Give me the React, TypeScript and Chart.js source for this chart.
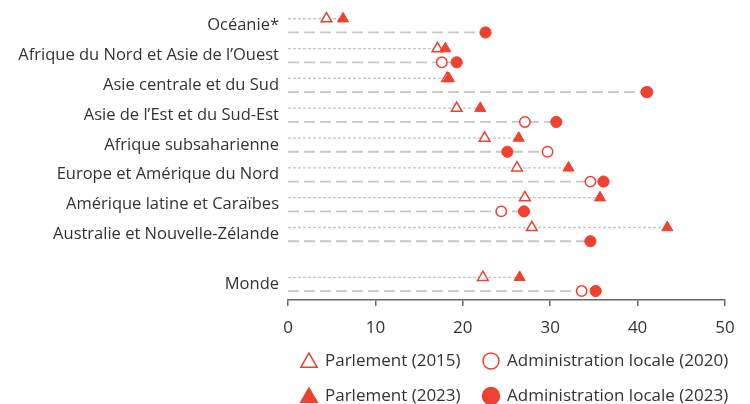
import React, { useEffect, useRef } from 'react';
import { Chart, registerables } from 'chart.js';

Chart.register(...registerables);

const categories = [
  'Océanie*',
  'Afrique du Nord et Asie de l’Ouest',
  'Asie centrale et du Sud',
  'Asie de l’Est et du Sud-Est',
  'Afrique subsaharienne',
  'Europe et Amérique du Nord',
  'Amérique latine et Caraïbes',
  'Australie et Nouvelle-Zélande',
  'Monde',
];
const parlement2015 = [4.4, 17.1, 18.2, 19.3, 22.5, 26.2, 27.1, 27.9, 22.3];
const parlement2023 = [6.3, 18.0, 18.4, 22.0, 26.4, 32.1, 35.7, 43.4, 26.5];
const locale2020: (number | null)[] = [null, 17.6, 41.0, 27.1, 29.7, 34.6, 24.4, null, 33.6];
const locale2023 = [22.6, 19.3, 41.1, 30.7, 25.1, 36.1, 27.0, 34.6, 35.2];
const xTicks = [0, 10, 20, 30, 40, 50];
const seriesLabels = [
  'Parlement (2015)',
  'Administration locale (2020)',
  'Parlement (2023)',
  'Administration locale (2023)',
];

const RED = '#EF4130';
const GRAY_LINE = '#c6c6c6';
const TEXT = '#333333';
const FONT = "'Open Sans', sans-serif";
const OFF = 0.23;

// row centre on the linear y scale; a gap separates "Monde"
const rowPos = categories.map((_, i) => (i < categories.length - 1 ? i : i + 0.67));

function maxOf(vals: (number | null)[]) {
  const v = vals.filter((x): x is number => x !== null && x !== undefined);
  return v.length ? Math.max(...v) : 0;
}

function pts(vals: (number | null)[], off: number) {
  const out: { x: number; y: number }[] = [];
  vals.forEach((v, i) => {
    if (v !== null && v !== undefined) out.push({ x: v, y: rowPos[i] + off });
  });
  return out;
}

function drawMarker(ctx: CanvasRenderingContext2D, kind: string, filled: boolean, x: number, y: number) {
  ctx.save();
  ctx.lineWidth = 1.5;
  ctx.strokeStyle = RED;
  ctx.fillStyle = filled ? RED : '#ffffff';
  ctx.beginPath();
  if (kind === 'triangle') {
    const r = 9.5;
    ctx.moveTo(x, y - r);
    ctx.lineTo(x + r * 0.866, y + r * 0.5);
    ctx.lineTo(x - r * 0.866, y + r * 0.5);
    ctx.closePath();
  } else {
    ctx.arc(x, y, filled ? 8.5 : 8, 0, Math.PI * 2);
  }
  ctx.fill();
  ctx.stroke();
  ctx.restore();
}

const legendPlugin = {
  id: 'customLegend',
  afterDraw(chart: any) {
    const ctx = chart.ctx as CanvasRenderingContext2D;
    const items = [
      { label: seriesLabels[0], kind: 'triangle', filled: false, col: 0, row: 0 },
      { label: seriesLabels[1], kind: 'circle', filled: false, col: 1, row: 0 },
      { label: seriesLabels[2], kind: 'triangle', filled: true, col: 0, row: 1 },
      { label: seriesLabels[3], kind: 'circle', filled: true, col: 1, row: 1 },
    ];
    const colMarkerX = [309, 491];
    const rowY = [361, 396];
    ctx.save();
    ctx.font = `17px ${FONT}`;
    ctx.fillStyle = TEXT;
    ctx.textBaseline = 'middle';
    ctx.textAlign = 'left';
    items.forEach((it) => {
      const mx = colMarkerX[it.col];
      const my = rowY[it.row];
      drawMarker(ctx, it.kind, it.filled, mx, my + (it.kind === 'triangle' ? 1.5 : 0));
      ctx.fillStyle = TEXT;
      ctx.fillText(it.label, mx + 16, my);
    });
    ctx.restore();
  },
};

export default function App() {
  const ref = useRef<HTMLCanvasElement>(null);

  useEffect(() => {
    if (!ref.current) return;

    const lineSets: any[] = [];
    categories.forEach((_, i) => {
      lineSets.push({
        type: 'line',
        label: 'lp' + i,
        data: [
          { x: 0, y: rowPos[i] - OFF },
          { x: maxOf([parlement2015[i], parlement2023[i]]), y: rowPos[i] - OFF },
        ],
        showLine: true,
        borderColor: GRAY_LINE,
        borderWidth: 1.3,
        borderDash: [3, 2],
        pointRadius: 0,
        order: 5,
      });
      lineSets.push({
        type: 'line',
        label: 'll' + i,
        data: [
          { x: 0, y: rowPos[i] + OFF },
          { x: maxOf([locale2020[i], locale2023[i]]), y: rowPos[i] + OFF },
        ],
        showLine: true,
        borderColor: GRAY_LINE,
        borderWidth: 1.8,
        borderDash: [11, 5],
        pointRadius: 0,
        order: 5,
      });
    });

    const markerSets: any[] = [
      {
        label: seriesLabels[0],
        data: pts(parlement2015, -OFF),
        pointStyle: 'triangle',
        pointRadius: 6.2,
        backgroundColor: '#ffffff',
        borderColor: RED,
        borderWidth: 1.5,
        order: 2,
      },
      {
        label: seriesLabels[1],
        data: pts(locale2020, OFF),
        pointStyle: 'circle',
        pointRadius: 5.2,
        backgroundColor: '#ffffff',
        borderColor: RED,
        borderWidth: 1.5,
        order: 2,
      },
      {
        label: seriesLabels[2],
        data: pts(parlement2023, -OFF),
        pointStyle: 'triangle',
        pointRadius: 6.4,
        backgroundColor: RED,
        borderColor: RED,
        borderWidth: 1,
        order: 1,
      },
      {
        label: seriesLabels[3],
        data: pts(locale2023, OFF),
        pointStyle: 'circle',
        pointRadius: 5.6,
        backgroundColor: RED,
        borderColor: RED,
        borderWidth: 1,
        order: 1,
      },
    ];

    const chart = new Chart(ref.current, {
      type: 'scatter',
      data: { datasets: [...lineSets, ...markerSets] },
      options: {
        animation: false,
        responsive: false,
        maintainAspectRatio: false,
        layout: { padding: { top: 0, right: 25, bottom: 0, left: 0 } },
        plugins: {
          legend: { display: false },
          tooltip: { enabled: false },
        },
        scales: {
          x: {
            type: 'linear',
            min: 0,
            max: 50,
            afterBuildTicks: (s: any) => {
              s.ticks = xTicks.map((v) => ({ value: v }));
            },
            afterFit: (s: any) => {
              s.height = 104;
              s.paddingLeft = 0;
              s.paddingRight = 0;
            },
            border: { display: true, color: '#666666', width: 1.5 },
            grid: {
              display: true,
              drawOnChartArea: false,
              drawTicks: true,
              tickLength: 6,
              color: '#666666',
              lineWidth: 1.5,
            },
            ticks: {
              color: TEXT,
              font: { family: FONT, size: 17 },
              padding: 12,
              maxRotation: 0,
            },
          },
          y: {
            type: 'linear',
            reverse: true,
            min: -0.6,
            max: 9.2,
            afterBuildTicks: (s: any) => {
              s.ticks = rowPos.map((v) => ({ value: v }));
            },
            afterFit: (s: any) => {
              s.width = 288;
              s.paddingTop = 0;
              s.paddingBottom = 0;
            },
            border: { display: false },
            grid: { display: false, drawTicks: false },
            ticks: {
              color: TEXT,
              font: { family: FONT, size: 16.5 },
              padding: 9,
              autoSkip: false,
              callback: (v: any) => {
                const idx = rowPos.findIndex((p) => Math.abs(p - Number(v)) < 1e-6);
                return idx >= 0 ? categories[idx] : '';
              },
            },
          },
        },
      },
      plugins: [legendPlugin],
    } as any);

    return () => chart.destroy();
  }, []);

  return (
    <div style={{ position: 'fixed', left: 0, top: 0, width: 750, height: 404, background: '#ffffff' }}>
      <canvas ref={ref} width={750} height={404} style={{ display: 'block' }} />
    </div>
  );
}
